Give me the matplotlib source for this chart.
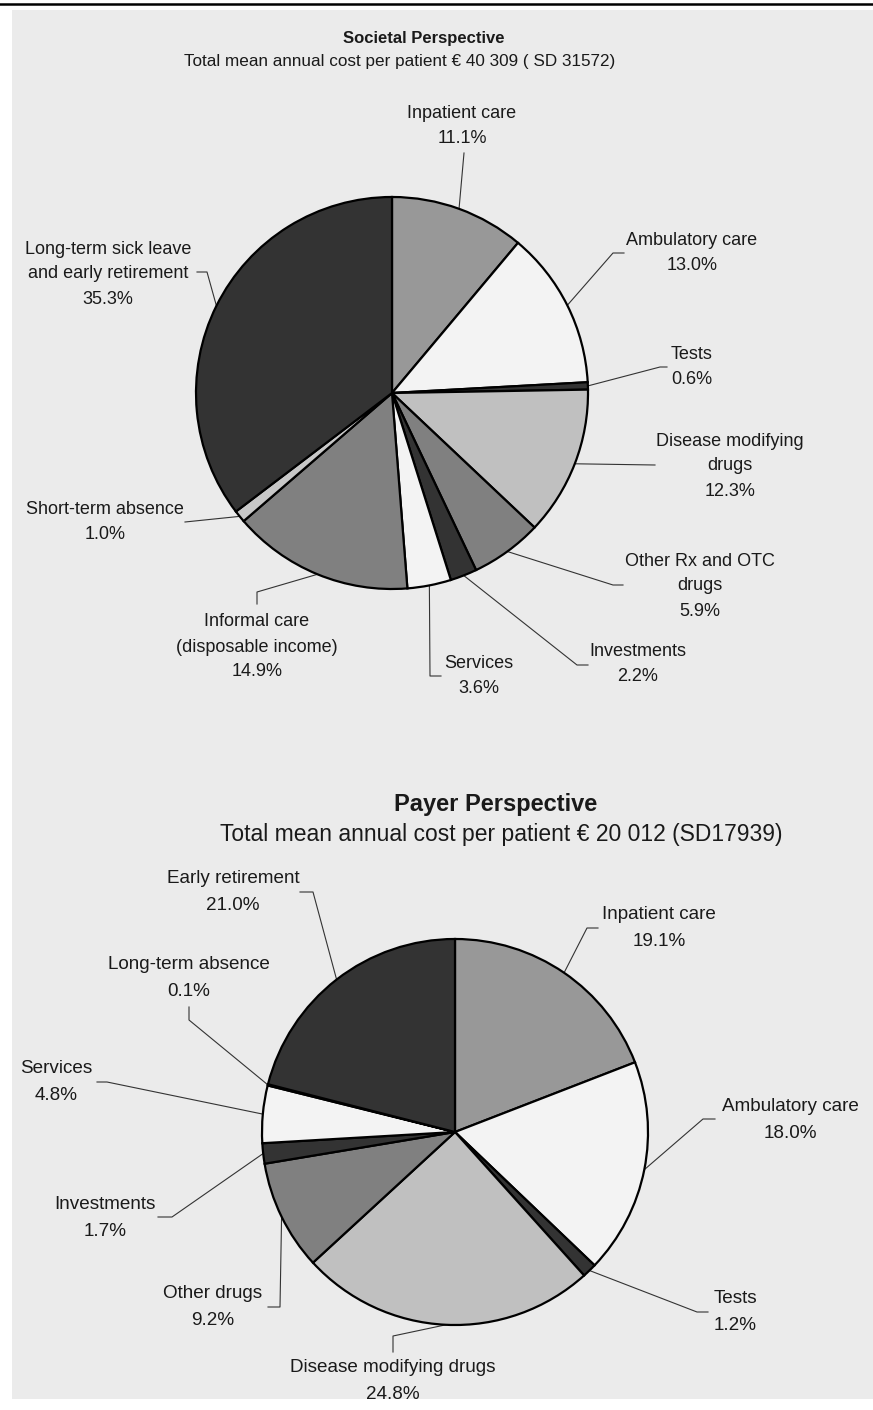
import numpy as np
import matplotlib.pyplot as plt
from matplotlib.patches import Rectangle

plt.rcParams['font.family'] = ['Liberation Sans', 'DejaVu Sans']

W, H = 873, 1410
DARK, MID, GREY, LIGHT, PALE, WHITE = "#333333", "#808080", "#989898", "#c0c0c0", "#c8c8c8", "#f3f3f3"

# ---- societal perspective ----
soc_labels = ["Inpatient care", "Ambulatory care", "Tests", "Disease modifying\ndrugs",
              "Other Rx and OTC\ndrugs", "Investments", "Services",
              "Informal care\n(disposable income)", "Short-term absence",
              "Long-term sick leave\nand early retirement"]
soc_share = [11.1, 13.0, 0.6, 12.3, 5.9, 2.2, 3.6, 14.9, 1.0, 35.3]
soc_colors = [GREY, WHITE, DARK, LIGHT, MID, DARK, WHITE, MID, PALE, DARK]

# ---- payer perspective ----
pay_labels = ["Inpatient care", "Ambulatory care", "Tests", "Disease modifying drugs",
              "Other drugs", "Investments", "Services", "Long-term absence",
              "Early retirement"]
pay_share = [19.1, 18.0, 1.2, 24.8, 9.2, 1.7, 4.8, 0.1, 21.0]
pay_colors = [GREY, WHITE, DARK, LIGHT, MID, DARK, WHITE, LIGHT, DARK]

# label placement (pixel coords from top-left): text block centre, leader elbows
soc_layout = [
    ((462, 124), [(464, 153)]),
    ((692, 251), [(613, 253), (624, 253)]),
    ((692, 365), [(660, 367), (667, 367)]),
    ((730, 464), [(655, 465)]),
    ((700, 584), [(613, 585), (623, 585)]),
    ((638, 662), [(577, 665), (588, 665)]),
    ((479, 674), [(430, 676), (441, 676)]),
    ((257, 645), [(257, 592), (257, 604)]),
    ((105, 520), [(185, 522)]),
    ((108, 272), [(207, 272), (197, 272)]),
]
pay_layout = [
    ((659, 926), [(587, 928), (598, 928)]),
    ((790, 1118), [(703, 1119), (715, 1119)]),
    ((735, 1310), [(697, 1312), (708, 1312)]),
    ((393, 1379), [(393, 1336), (393, 1352)]),
    ((213, 1305), [(280, 1307), (268, 1307)]),
    ((105, 1216), [(172, 1217), (158, 1217)]),
    ((56, 1080), [(107, 1082), (97, 1082)]),
    ((189, 976), [(189, 1020), (189, 1007)]),
    ((233, 890), [(313, 892), (300, 892)]),
]


def put_lines(ax, x, y, lines, size, gap, **kw):
    """Stack text lines centred on (x, y) in pixel coords, fixed baseline gap."""
    px = size * 100 / 72
    n = len(lines)
    for i, line in enumerate(lines):
        yc = y + (i - (n - 1) / 2) * gap
        ax.text(x, H - (yc + 0.36 * px), line, ha="center", va="baseline",
                fontsize=size, color="#1a1a1a", **kw)


def draw_pie(ax, shares, colors, labels, layout, center, radius, size, gap):
    cx, cy = center[0], H - center[1]
    wedges, _ = ax.pie(shares, colors=colors, startangle=90, counterclock=False,
                       radius=radius, center=(cx, cy),
                       wedgeprops=dict(edgecolor="black", linewidth=1.6))
    for w, lab, v, ((tx, ty), elbows) in zip(wedges, labels, shares, layout):
        th = np.deg2rad((w.theta1 + w.theta2) / 2)
        xs = [cx + radius * np.cos(th)] + [p[0] for p in elbows]
        ys = [cy + radius * np.sin(th)] + [H - p[1] for p in elbows]
        ax.plot(xs, ys, color="#333333", lw=0.8, zorder=0.5)
        put_lines(ax, tx, ty, lab.split("\n") + [f"{v:.1f}%"], size, gap)


fig = plt.figure(figsize=(W / 100, H / 100), dpi=100, facecolor="white")
ax = fig.add_axes([0, 0, 1, 1])

draw_pie(ax, soc_share, soc_colors, soc_labels, soc_layout, (392, 393), 196, 13, 25)
draw_pie(ax, pay_share, pay_colors, pay_labels, pay_layout, (455, 1132), 193, 13.6, 27)

ax.add_patch(Rectangle((12, H - 1399), W - 12, 1389, facecolor="#ebebeb",
                       edgecolor="none", zorder=0))
ax.plot([0, W], [H - 4, H - 4], color="black", lw=1.8)

put_lines(ax, 424, 37, ["Societal Perspective"], 12, 0, fontweight="bold")
put_lines(ax, 400, 60, ["Total mean annual cost per patient € 40 309 ( SD 31572)"], 12.3, 0)
put_lines(ax, 496, 803, ["Payer Perspective"], 17, 0, fontweight="bold")
put_lines(ax, 501, 833, ["Total mean annual cost per patient € 20 012 (SD17939)"], 16.5, 0)

ax.set_xlim(0, W)
ax.set_ylim(0, H)
ax.set_aspect("equal")
ax.axis("off")

fig.savefig("out.png", dpi=100, facecolor="white")
